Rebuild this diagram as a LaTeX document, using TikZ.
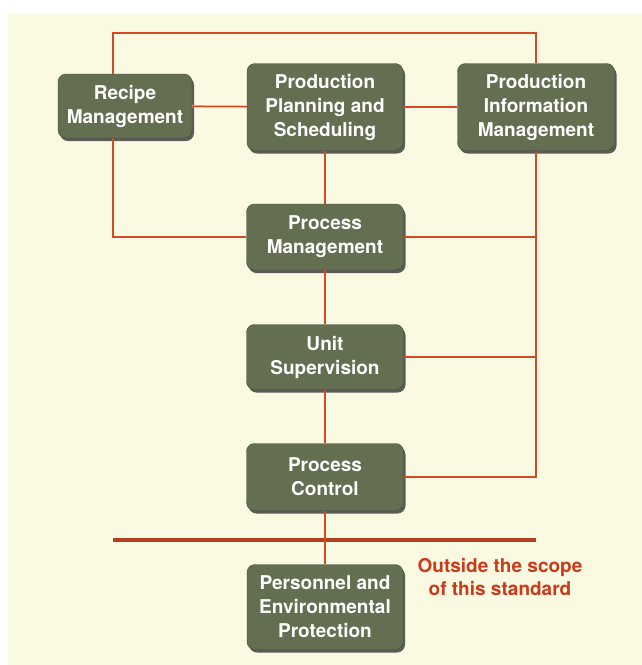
\documentclass[tikz,border=0pt]{standalone}
\usepackage{fontspec}
\setmainfont{TeX Gyre Heros}
\usetikzlibrary{shadows}
\definecolor{paper}{RGB}{250,249,226}
\definecolor{olivebox}{RGB}{100,110,80}
\definecolor{wirered}{RGB}{212,74,38}
\definecolor{wireglow}{RGB}{240,200,60}
\definecolor{scopered}{RGB}{204,58,28}
\tikzset{
    block/.style = {
        draw = olivebox!70!black,
        fill = olivebox,
        rounded corners = 8pt,
        text = white,
        align = center,
        inner sep = 0pt,
        font = \bfseries\fontsize{19}{24}\selectfont,
        drop shadow = {shadow xshift=2pt, shadow yshift=-3pt, fill=black!75, opacity=0.85},
        },
    wire/.style = {
        draw = wirered,
        line width = 1.3pt,
        preaction = {draw=wireglow, line width=2.2pt},
        },
    scope line/.style = {
        draw = wirered!85!black,
        line width = 4pt,
        },
    scope note/.style = {
        text = scopered,
        align = center,
        font = \bfseries\fontsize{19}{23}\selectfont,
        },
}
\begin{document}
\begin{tikzpicture}[x=1pt, y=-1pt]
            \useasboundingbox (0,0) rectangle (642,665);
            \fill[paper] (8,13) rectangle (642,665);

            \node[block, minimum width=134pt, minimum height=64pt] (rm) at (125,106) {Recipe\\Management};
            \node[block, minimum width=156pt, minimum height=87pt] (pps) at (325,107) {Production\\Planning and\\Scheduling};
            \node[block, minimum width=157pt, minimum height=87pt] (pim) at (536,107) {Production\\Information\\Management};
            \node[block, minimum width=157pt, minimum height=66pt] (pm) at (325,237) {Process\\Management};
            \node[block, minimum width=157pt, minimum height=65pt] (us) at (325,357) {Unit\\Supervision};
            \node[block, minimum width=157pt, minimum height=67pt] (pc) at (325,477) {Process\\Control};
            \node[block, minimum width=156pt, minimum height=85pt] (pep) at (325,607) {Personnel and\\Environmental\\Protection};

            \coordinate (tl) at (113,33);
            \coordinate (sl) at (113,540);
            \coordinate (sr) at (536,540);

            \node[scope note] (note) at (500,577) {Outside the scope\\of this standard};

            \path[wire] (rm.north -| tl) -- (tl) -| (pim.north);
            \path[wire] (rm.south -| tl) |- (pm.west);
            \path[wire] (rm) -- (pps);
            \path[wire] (pps) -- (pim);
            \path[wire] (pps) -- (pm);
            \path[wire] (pm) -- (us);
            \path[wire] (us) -- (pc);
            \path[wire] (pim.south) |- (pc.east);
            \path[wire] (pm.east) -- (pm.east -| pim.south);
            \path[wire] (us.east) -- (us.east -| pim.south);
            \path[scope line] (sl) -- (sr);
            \path[wire] (pc) -- (pep);
\end{tikzpicture}
\end{document}
